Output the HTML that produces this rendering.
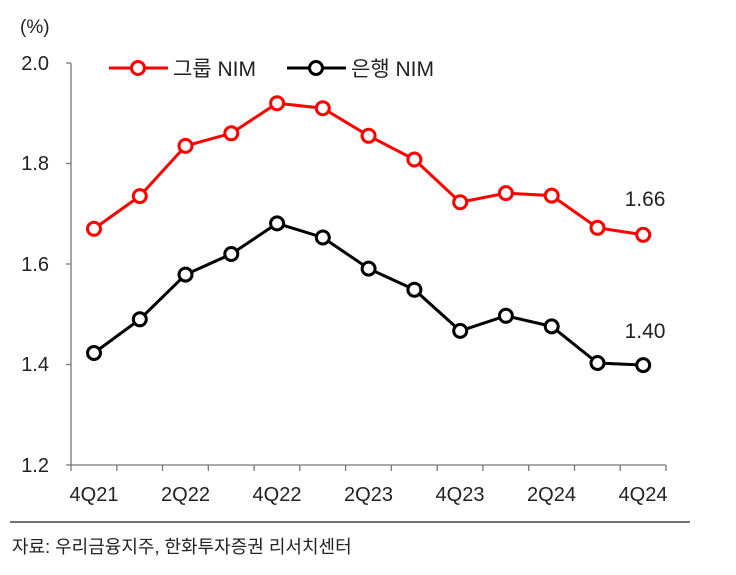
<!DOCTYPE html>
<html><head><meta charset="utf-8"><style>
body{margin:0;background:#fff;}
svg text{font-family:"Liberation Sans","Noto Sans CJK KR",sans-serif;}
</style></head><body>
<svg width="736" height="570" viewBox="0 0 736 570" xmlns="http://www.w3.org/2000/svg">
<text x="20" y="33" font-size="19" fill="#222">(%)</text>
<g font-size="20" fill="#222" text-anchor="end">
<text x="49" y="70">2.0</text>
<text x="49" y="170">1.8</text>
<text x="49" y="271">1.6</text>
<text x="49" y="371">1.4</text>
<text x="49" y="472">1.2</text>
</g>
<g stroke="#777" stroke-width="1.3" fill="none">
<path d="M71 63V465H666"/>
<path d="M66 63H71M66 163.5H71M66 264H71M66 364.5H71M66 465H71"/>
<path d="M71 465v6M116.8 465v6M162.5 465v6M208.3 465v6M254.1 465v6M299.8 465v6M345.6 465v6M391.4 465v6M437.2 465v6M482.9 465v6M528.7 465v6M574.5 465v6M620.2 465v6M666 465v6"/>
</g>
<g font-size="20" fill="#222" text-anchor="middle">
<text x="94" y="501">4Q21</text><text x="185.5" y="501">2Q22</text><text x="277" y="501">4Q22</text>
<text x="368.5" y="501">2Q23</text><text x="460" y="501">4Q23</text><text x="551.5" y="501">2Q24</text><text x="643" y="501">4Q24</text>
</g>
<line x1="10" y1="522" x2="690" y2="522" stroke="#222" stroke-width="1.3"/>
<text x="12" y="553" font-size="18" fill="#222">자료: 우리금융지주, 한화투자증권 리서치센터</text>
<line x1="109" y1="68" x2="168" y2="68" stroke="#f00" stroke-width="3"/>
<circle cx="138" cy="68" r="6.5" fill="#fff" stroke="#f00" stroke-width="3"/>
<text x="173" y="76" font-size="21" fill="#222">그룹 NIM</text>
<line x1="287" y1="68" x2="346" y2="68" stroke="#000" stroke-width="3"/>
<circle cx="316" cy="68" r="6.5" fill="#fff" stroke="#000" stroke-width="3"/>
<text x="351" y="76" font-size="21" fill="#222">은행 NIM</text>
<polyline fill="none" stroke="#f00" stroke-width="3" points="94,228.8 139.8,196.1 185.5,145.9 231.3,133.3 277.1,103.2 322.8,108.2 368.6,135.8 414.4,159.5 460.2,202.2 505.9,193.1 551.7,195.6 597.5,227.8 643.2,234.8"/>
<g fill="#fff" stroke="#f00" stroke-width="3">
<circle cx="94" cy="228.8" r="6.5"/><circle cx="139.8" cy="196.1" r="6.5"/><circle cx="185.5" cy="145.9" r="6.5"/><circle cx="231.3" cy="133.3" r="6.5"/><circle cx="277.1" cy="103.2" r="6.5"/><circle cx="322.8" cy="108.2" r="6.5"/><circle cx="368.6" cy="135.8" r="6.5"/><circle cx="414.4" cy="159.5" r="6.5"/><circle cx="460.2" cy="202.2" r="6.5"/><circle cx="505.9" cy="193.1" r="6.5"/><circle cx="551.7" cy="195.6" r="6.5"/><circle cx="597.5" cy="227.8" r="6.5"/><circle cx="643.2" cy="234.8" r="6.5"/>
</g>
<polyline fill="none" stroke="#000" stroke-width="3" points="94,353 139.8,319.3 185.5,274.6 231.3,254 277.1,223.4 322.8,237.5 368.6,268.6 414.4,289.7 460.2,330.9 505.9,315.8 551.7,326.4 597.5,363 643.2,365.1"/>
<g fill="#fff" stroke="#000" stroke-width="3">
<circle cx="94" cy="353" r="6.5"/><circle cx="139.8" cy="319.3" r="6.5"/><circle cx="185.5" cy="274.6" r="6.5"/><circle cx="231.3" cy="254" r="6.5"/><circle cx="277.1" cy="223.4" r="6.5"/><circle cx="322.8" cy="237.5" r="6.5"/><circle cx="368.6" cy="268.6" r="6.5"/><circle cx="414.4" cy="289.7" r="6.5"/><circle cx="460.2" cy="330.9" r="6.5"/><circle cx="505.9" cy="315.8" r="6.5"/><circle cx="551.7" cy="326.4" r="6.5"/><circle cx="597.5" cy="363" r="6.5"/><circle cx="643.2" cy="365.1" r="6.5"/>
</g>
<text x="645" y="206" font-size="21" fill="#222" text-anchor="middle">1.66</text>
<text x="645" y="338" font-size="21" fill="#222" text-anchor="middle">1.40</text>
</svg>
</body></html>
